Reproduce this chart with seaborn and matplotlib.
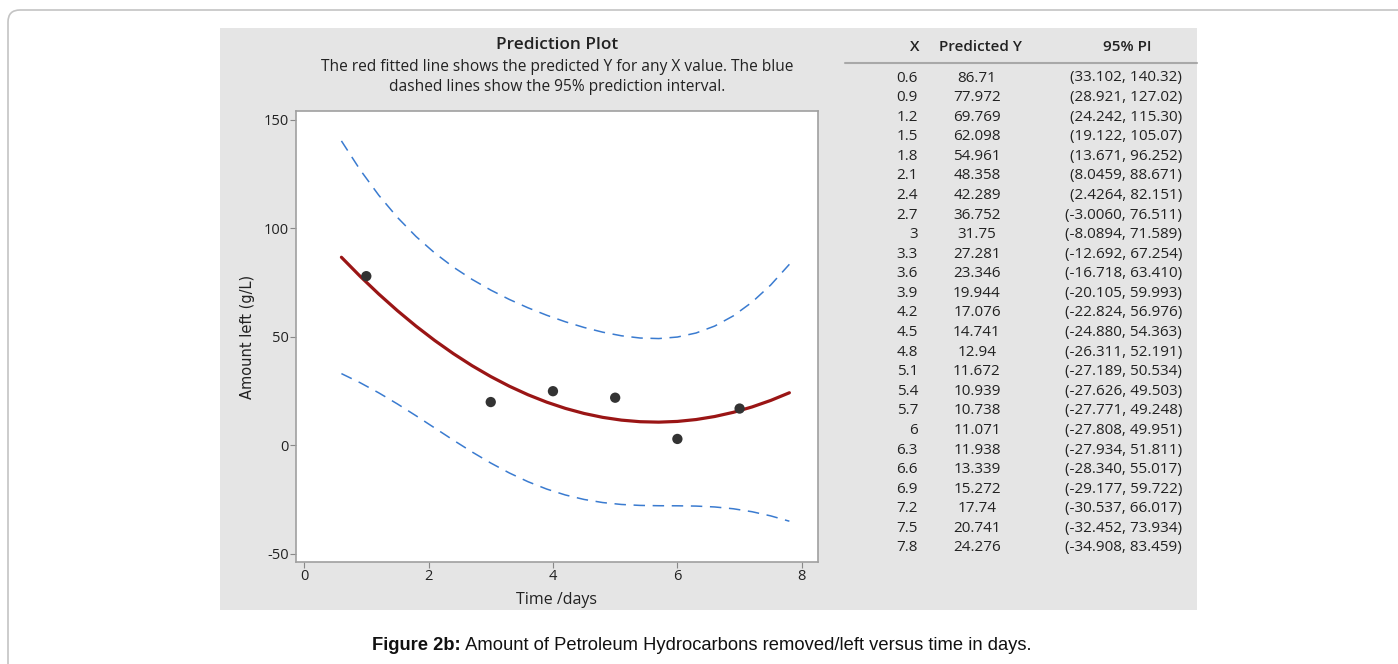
import numpy as np
import pandas as pd
import seaborn as sns
import matplotlib.pyplot as plt
from matplotlib.patches import Rectangle, FancyBboxPatch

# observed points
obs_x = [1, 3, 4, 5, 6, 7]
obs_y = [78, 20, 25, 22, 3, 17]

# fitted values / prediction interval (from the table)
tab_x = [0.6, 0.9, 1.2, 1.5, 1.8, 2.1, 2.4, 2.7, 3, 3.3, 3.6, 3.9, 4.2,
         4.5, 4.8, 5.1, 5.4, 5.7, 6, 6.3, 6.6, 6.9, 7.2, 7.5, 7.8]
tab_x_txt = ['0.6', '0.9', '1.2', '1.5', '1.8', '2.1', '2.4', '2.7', '3', '3.3', '3.6', '3.9', '4.2',
             '4.5', '4.8', '5.1', '5.4', '5.7', '6', '6.3', '6.6', '6.9', '7.2', '7.5', '7.8']
pred_txt = ['86.71', '77.972', '69.769', '62.098', '54.961', '48.358', '42.289', '36.752',
            '31.75', '27.281', '23.346', '19.944', '17.076', '14.741', '12.94', '11.672',
            '10.939', '10.738', '11.071', '11.938', '13.339', '15.272', '17.74', '20.741', '24.276']
pi_lo_txt = ['33.102', '28.921', '24.242', '19.122', '13.671', '8.0459', '2.4264', '-3.0060',
             '-8.0894', '-12.692', '-16.718', '-20.105', '-22.824', '-24.880', '-26.311',
             '-27.189', '-27.626', '-27.771', '-27.808', '-27.934', '-28.340', '-29.177',
             '-30.537', '-32.452', '-34.908']
pi_hi_txt = ['140.32', '127.02', '115.30', '105.07', '96.252', '88.671', '82.151', '76.511',
             '71.589', '67.254', '63.410', '59.993', '56.976', '54.363', '52.191', '50.534',
             '49.503', '49.248', '49.951', '51.811', '55.017', '59.722', '66.017', '73.934', '83.459']

df = pd.DataFrame({'x': tab_x,
                   'fit': [float(v) for v in pred_txt],
                   'lo': [float(v) for v in pi_lo_txt],
                   'hi': [float(v) for v in pi_hi_txt]})
pts = pd.DataFrame({'x': obs_x, 'y': obs_y})

sns.set_style('white')
plt.rcParams['font.family'] = ['Open Sans', 'DejaVu Sans']
plt.rcParams['axes.unicode_minus'] = False

W, H = 1398, 664
fig = plt.figure(figsize=(W / 100, H / 100), dpi=100)


def fx(x):
    return x / W


def fy(y):
    return 1 - y / H


# outer frame with rounded corner
fig.patches.append(FancyBboxPatch((0.08, -1), 20, 7.54, boxstyle='round,pad=0,rounding_size=0.12',
                                  transform=fig.dpi_scale_trans, facecolor='white',
                                  edgecolor='#c4c4c4', lw=1.2, zorder=-3))
# grey panel
fig.patches.append(Rectangle((fx(220), fy(610)), fx(1197 - 220), (610 - 28) / H,
                             transform=fig.transFigure, facecolor='#e5e5e5', edgecolor='none', zorder=-2))

ax = fig.add_axes([fx(296), fy(562), fx(818 - 296), (562 - 111) / H])
ax.set_facecolor('white')

sns.lineplot(data=df, x='x', y='hi', ax=ax, color='#3a7bd0', lw=1.1, linestyle=(0, (7.5, 5)))
sns.lineplot(data=df, x='x', y='lo', ax=ax, color='#3a7bd0', lw=1.1, linestyle=(0, (7.5, 5)))
sns.lineplot(data=df, x='x', y='fit', ax=ax, color='#9a1515', lw=2.3)
sns.scatterplot(data=pts, x='x', y='y', ax=ax, color='#333333', s=55, edgecolor='none', zorder=5)

ax.set_xlim(-0.13, 8.26)
ax.set_ylim(-53.7, 154.1)
ax.set_xticks([0, 2, 4, 6, 8])
ax.set_yticks([-50, 0, 50, 100, 150])
ax.tick_params(axis='both', bottom=True, left=True, direction='out', length=4, width=0.8,
               color='#888888', labelsize=10.5, labelcolor='#222222', pad=1)
for s in ax.spines.values():
    s.set_color('#a0a0a0')
    s.set_linewidth(1.2)
ax.set_xlabel('Time /days', fontsize=11.5, color='#222222', labelpad=6)
ax.set_ylabel('Amount left (g/L)', fontsize=10.5, color='#222222', family='DejaVu Sans', labelpad=6)

# titles
fig.text(fx(557), fy(45), 'Prediction Plot', ha='center', va='center', fontsize=12.4,
         fontweight='semibold', color='#222222')
fig.text(fx(557), fy(67), 'The red fitted line shows the predicted Y for any X value. The blue',
         ha='center', va='center', fontsize=11.2, color='#222222')
fig.text(fx(557), fy(87), 'dashed lines show the 95% prediction interval.',
         ha='center', va='center', fontsize=11.2, color='#222222')

# table
fig.text(fx(919), fy(47), 'X', ha='right', va='center', fontsize=11, fontweight='semibold', color='#222222')
fig.text(fx(980), fy(47), 'Predicted Y', ha='center', va='center', fontsize=11, fontweight='semibold', color='#222222')
fig.text(fx(1127), fy(47), '95% PI', ha='center', va='center', fontsize=11, fontweight='semibold', color='#222222')
fig.add_artist(plt.Line2D([fx(845), fx(1197)], [fy(63), fy(63)], transform=fig.transFigure,
                          color='#a8a8a8', lw=1.5))
row_y0, row_dy = 78, 19.58
for i in range(len(tab_x)):
    yy = fy(row_y0 + i * row_dy)
    fig.text(fx(918), yy, tab_x_txt[i], ha='right', va='center', fontsize=11, color='#222222')
    fig.text(fx(977), yy, pred_txt[i], ha='center', va='center', fontsize=11, color='#222222')
    fig.text(fx(1182), yy, '(%s, %s)' % (pi_lo_txt[i], pi_hi_txt[i]), ha='right', va='center',
             fontsize=11, color='#222222')

# caption
cap1 = fig.text(fx(372), fy(646), 'Figure 2b:', ha='left', va='center', fontsize=13.2, fontweight='bold',
                family='Liberation Sans', color='#111111')
ax.annotate(' Amount of Petroleum Hydrocarbons removed/left versus time in days.',
            xy=(1, 0.5), xycoords=cap1, ha='left', va='center', fontsize=13.2,
            family='Liberation Sans', color='#111111', annotation_clip=False)

plt.savefig('out.png', dpi=100)
